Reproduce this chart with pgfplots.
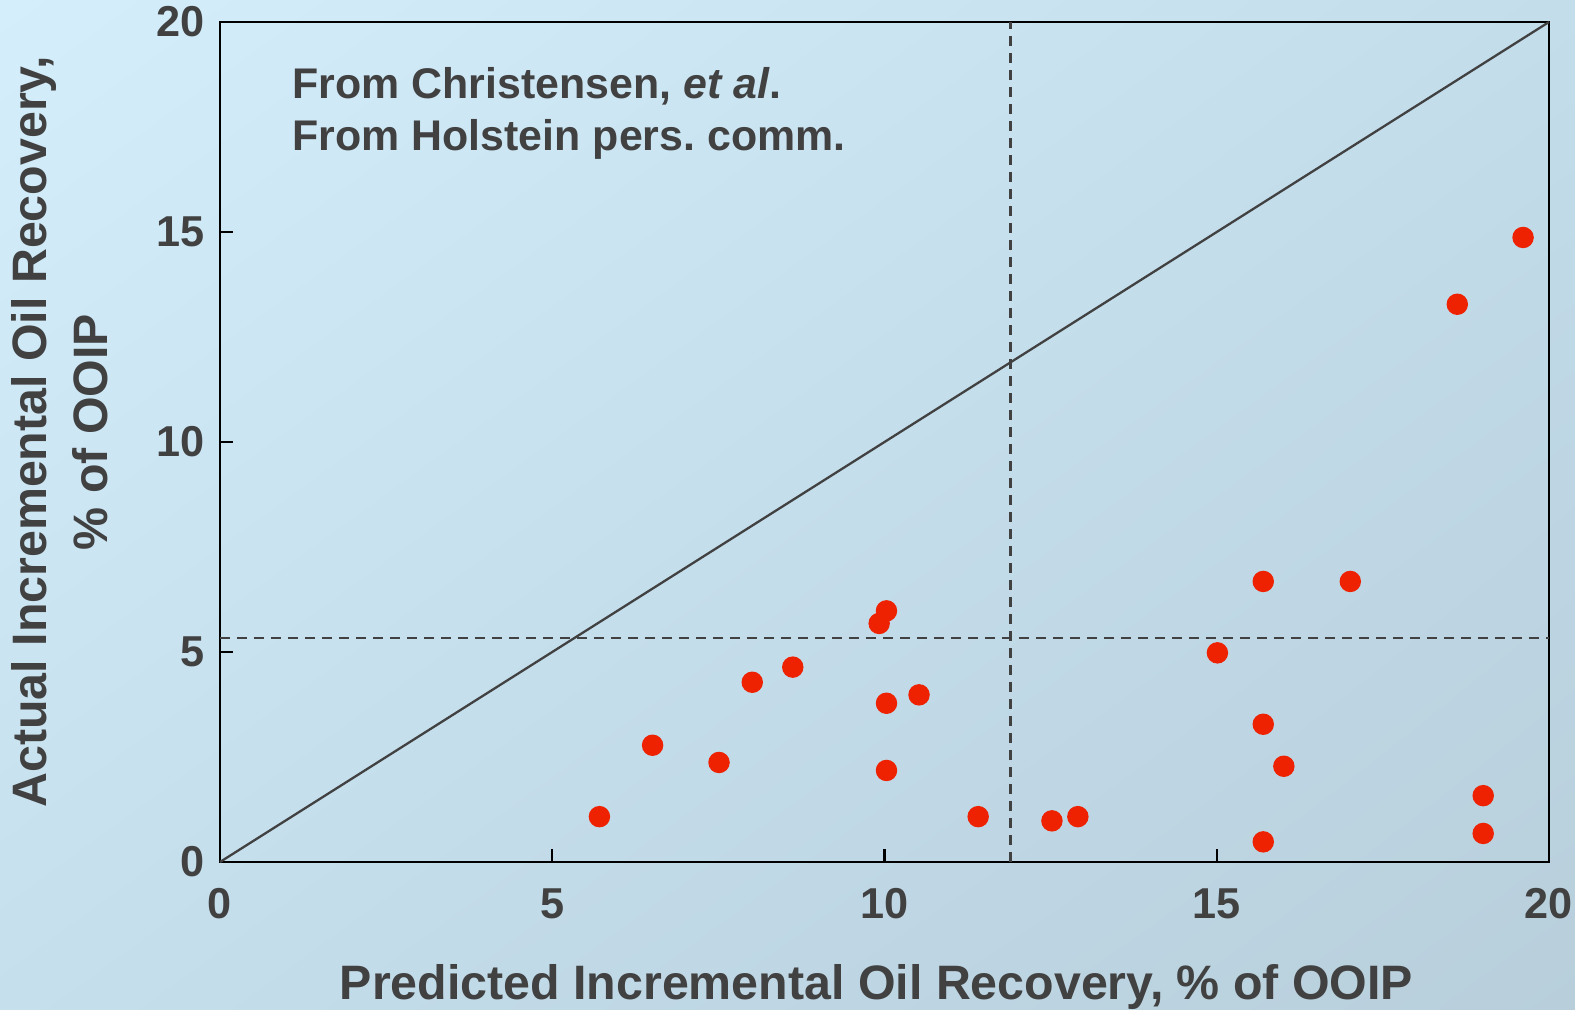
\documentclass[border=0pt]{standalone}
\usepackage{pgfplots}
\pgfplotsset{compat=1.18}
\usetikzlibrary{shadings}
\usepackage{fontspec}
\setmainfont{Liberation Sans}
\definecolor{txt}{HTML}{414141}
\definecolor{mk}{HTML}{EE2200}
\definecolor{bgTL}{HTML}{D4EEFC}
\definecolor{bgTR}{HTML}{C3DDEB}
\definecolor{bgBL}{HTML}{C5DFED}
\definecolor{bgBR}{HTML}{B8CEDB}
\frenchspacing
\begin{document}
\begin{tikzpicture}[x=1cm,y=1cm]
\shade[upper left=bgTL, upper right=bgTR, lower left=bgBL, lower right=bgBR] (-2.20,-1.47) rectangle (13.55,8.62);
\begin{axis}[
  scale only axis,
  width=13.29cm, height=8.40cm,
  xmin=0, xmax=20, ymin=0, ymax=20,
  xtick={0,5,10,15,20}, ytick={0,5,10,15,20},
  tick align=inside,
  xtick pos=bottom, ytick pos=left,
  major tick length=0.13cm,
  tick style={black, line width=0.6pt},
  axis line style={black, line width=0.8pt},
  /pgf/number format/assume math mode=true,
  tick label style={font=\bfseries\fontsize{12.3}{14}\selectfont, text=txt},
  xticklabel style={yshift=-0.14cm},
  yticklabel style={xshift=-0.03cm},
  xlabel={Predicted Incremental Oil Recovery, \% of OOIP},
  ylabel={Actual Incremental Oil Recovery,\\\% of OOIP},
  label style={font=\bfseries\fontsize{13.75}{17.5}\selectfont, text=txt},
  xlabel style={at={(axis description cs:0.494,-0.164)}, anchor=base},
  ylabel style={at={(axis description cs:-0.1204,0.512)}, anchor=center, align=center},
  clip=false,
]
\addplot[txt, line width=0.65pt] coordinates {(0,0) (20,20)};
\addplot[txt, line width=0.75pt, dash pattern=on 0.1cm off 0.07cm] coordinates {(11.9,0) (11.9,20)};
\addplot[txt, line width=0.75pt, dash pattern=on 0.1cm off 0.07cm] coordinates {(0,5.33) (20,5.33)};
\addplot[only marks, mark=*, mark size=2.85pt, mk, mark options={draw=mk, fill=mk}] table {
x y
5.71 1.08
6.51 2.78
7.51 2.37
8.01 4.28
8.62 4.64
9.92 5.68
10.03 5.98
10.03 3.78
10.03 2.18
10.52 3.98
11.41 1.08
12.52 0.98
12.91 1.08
15.01 4.98
15.70 6.68
15.70 3.28
15.70 0.48
16.01 2.28
17.01 6.68
18.62 13.28
19.01 1.58
19.01 0.68
19.61 14.87
};
\node[anchor=base west, inner sep=0pt, text=txt, font=\bfseries\fontsize{12.2}{15}\selectfont] at (axis cs:1.083,18.19) {From Christensen, \textit{et al}.};
\node[anchor=base west, inner sep=0pt, text=txt, font=\bfseries\fontsize{12.2}{15}\selectfont] at (axis cs:1.083,16.95) {From Holstein pers.\ comm.};
\end{axis}
\pgfresetboundingbox
\useasboundingbox (-2.20,-1.47) rectangle (13.55,8.62);
\end{tikzpicture}
\end{document}
